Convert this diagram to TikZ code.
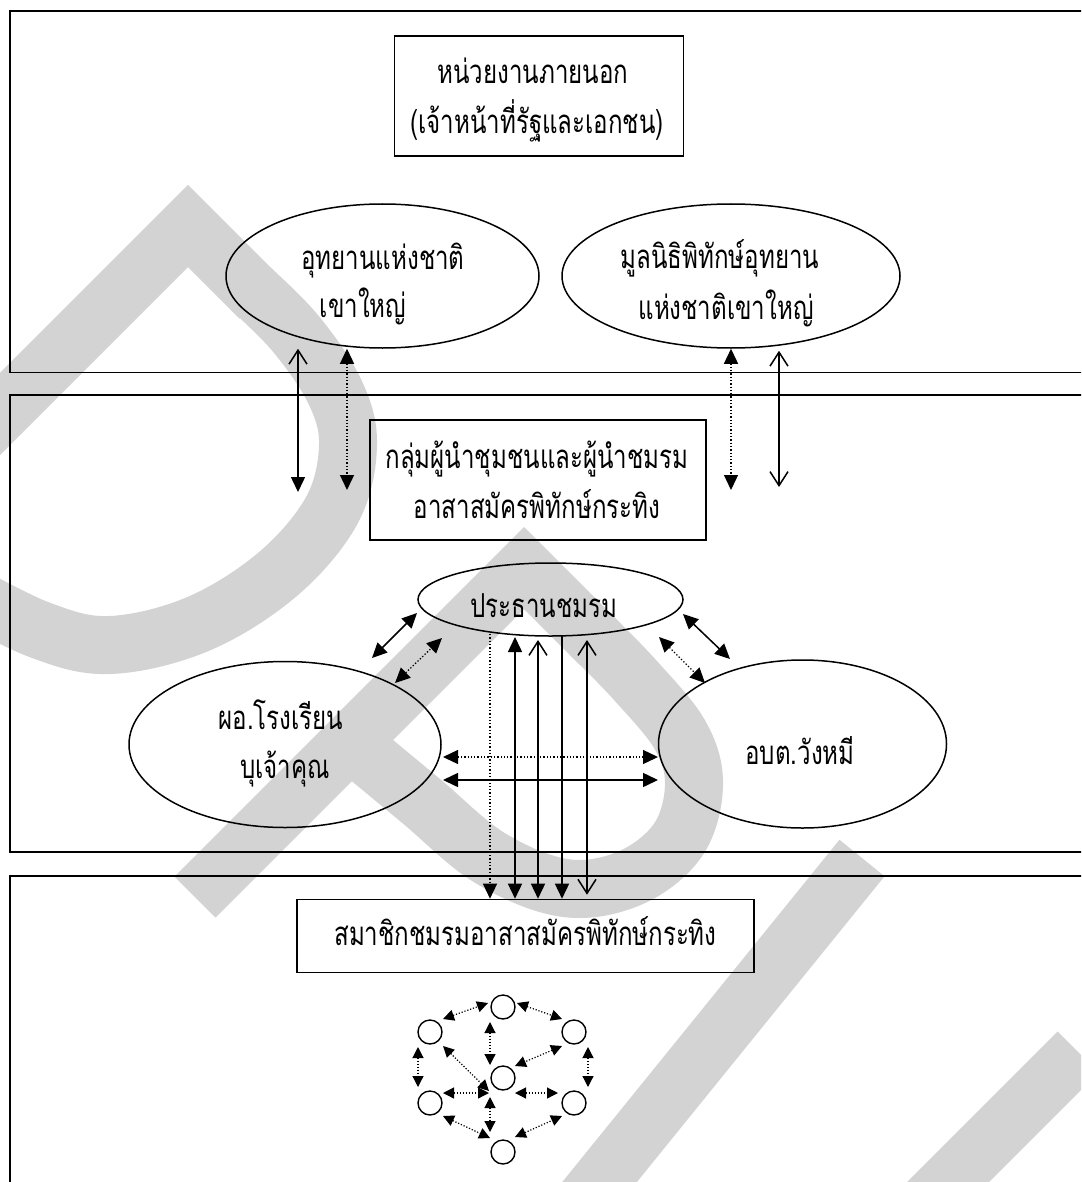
\documentclass[tikz,border=0pt]{standalone}
\usepackage{fontspec}
\newfontfamily\thai[Script=Thai,FakeStretch=0.73]{Loma}
\usetikzlibrary{arrows.meta,shapes.geometric,calc}
\definecolor{wm}{RGB}{211,211,211}
\tikzset{
  frame/.style={line width=1.8pt},
  boxnode/.style={draw,rectangle,line width=1.6pt,inner sep=0pt},
  ellnode/.style={draw,ellipse,line width=1.5pt,inner sep=0pt},
  member/.style={draw,circle,line width=1.4pt,inner sep=0pt,minimum size=24pt},
  thaitext/.style={font=\thai\fontsize{33}{38}\selectfont,anchor=base,inner sep=0pt},
  conn/.style={line width=1.5pt},
  dotconn/.style={line width=1.3pt,dash pattern=on 1.3pt off 2pt},
  small/.style={line width=1.2pt,dash pattern=on 1.2pt off 1.8pt},
  fh/.tip={Triangle[length=15pt,width=14pt]},
  oh/.tip={Straight Barb[length=14pt,width=18pt]},
  sh/.tip={Triangle[length=11pt,width=11pt]},
  band/.style={draw=wm,line width=58pt}
}
\begin{document}
\begin{tikzpicture}[x=1pt,y=-1pt]
\useasboundingbox (0,0) rectangle (1081,1182);
\clip (0,0) rectangle (1081,1182);
% watermark
\draw[band] (-80,494) -- (188,226) -- (260,298);
\draw[band] plot[smooth,tension=0.6] coordinates {(250,288) (296,334) (335,392) (348,445) (332,510) (278,574) (198,624) (110,645) (40,630) (-40,590)};
\draw[band] (195,897) -- (524,568) -- (600,644);
\draw[band] plot[smooth,tension=0.6] coordinates {(590,634) (635,680) (680,735) (694,785) (678,840) (630,878) (565,888) (490,858) (420,800) (350,742)};
\draw[band] (862,858) -- (585,1200);
\draw[band] (1078,1052) -- (925,1205);
% frames
\draw[frame] (1090,11) -| (10,372.5) -- (1090,372.5);
\draw[frame] (1090,395) -| (10,852) -- (1090,852);
\draw[frame] (1090,876) -| (10,1195);
% nodes
\node[boxnode,minimum width=289pt,minimum height=120pt] (ext) at (539,96) {};
\node[thaitext] (ext1) at (533,83.5) {หน่วยงานภายนอก};
\node[thaitext] (ext2) at (537,133.5) {(เจ้าหน้าที่รัฐและเอกชน)};
\node[ellnode,minimum width=313pt,minimum height=144pt] (park) at (382.5,276) {};
\node[thaitext] (park1) at (383,269.5) {อุทยานแห่งชาติ};
\node[thaitext] (park2) at (363,317.5) {เขาใหญ่};
\node[ellnode,minimum width=338pt,minimum height=144pt] (fund) at (731,276) {};
\node[thaitext] (fund1) at (720,268.5) {มูลนิธิพิทักษ์อุทยาน};
\node[thaitext] (fund2) at (726,319) {แห่งชาติเขาใหญ่};
\node[boxnode,minimum width=336pt,minimum height=120pt] (lead) at (538,480) {};
\node[thaitext] (lead1) at (537,468.5) {กลุ่มผู้นำชุมชนและผู้นำชมรม};
\node[thaitext] (lead2) at (537,518.5) {อาสาสมัครพิทักษ์กระทิง};
\node[ellnode,minimum width=265pt,minimum height=73pt] (pres) at (550.5,599.5) {};
\node[thaitext] (pres1) at (544,617) {ประธานชมรม};
\node[ellnode,minimum width=312pt,minimum height=166pt] (school) at (285,744.5) {};
\node[thaitext] (school1) at (281,729.5) {ผอ.โรงเรียน};
\node[thaitext] (school2) at (285,778.5) {บุเจ้าคุณ};
\node[ellnode,minimum width=288pt,minimum height=168pt] (sao) at (802.5,744) {};
\node[thaitext] (sao1) at (800,764.5) {อบต.วังหมี};
\node[boxnode,minimum width=457pt,minimum height=73pt] (mem) at (525.5,936) {};
\node[thaitext] (mem1) at (525.5,945.5) {สมาชิกชมรมอาสาสมัครพิทักษ์กระทิง};
% arrows between sections 1 and 2
\coordinate (a1) at (298,492);
\coordinate (a2) at (347,490);
\coordinate (a3) at (731,490);
\coordinate (a4) at (779,487);
\draw[conn,arrows={oh-fh}] (a1 |- park.south) -- (a1);
\draw[dotconn,arrows={fh-fh}] (a2 |- park.south) -- (a2);
\draw[dotconn,arrows={fh-fh}] (a3 |- fund.south) -- (a3);
\draw[conn,arrows={oh-oh}] ([yshift=-2pt]a4 |- fund.south) -- (a4);
% verticals from president to members
\coordinate (v1) at (490,634);
\coordinate (v2) at (515,637);
\coordinate (v3) at (538,640);
\coordinate (v4) at (562,636);
\coordinate (v5) at (587,640);
\draw[dotconn,arrows={-fh}] (v1) -- (v1 |- mem.north);
\draw[conn,arrows={fh-fh}] (v2) -- (v2 |- mem.north);
\draw[conn,arrows={oh-fh}] (v3) -- (v3 |- mem.north);
\draw[conn,arrows={-fh}] (v4) -- (v4 |- mem.north);
\draw[conn,arrows={oh-oh}] (v5) -- ([yshift=4pt]v5 |- mem.north);
% diagonals and horizontals
\coordinate (d1a) at (372,658); \coordinate (d1b) at (417,613);
\coordinate (d2a) at (395,683); \coordinate (d2b) at (442,638);
\coordinate (d3a) at (683,614); \coordinate (d3b) at (730,659);
\coordinate (d4a) at (659,637); \coordinate (d4b) at (705,683);
\coordinate (h1a) at (443,757); \coordinate (h1b) at (658,757);
\coordinate (h2a) at (443,780); \coordinate (h2b) at (658,780);
\draw[conn,arrows={fh-fh}] (d1a) -- (d1b);
\draw[dotconn,arrows={fh-fh}] (d2a) -- (d2b);
\draw[conn,arrows={fh-fh}] (d3a) -- (d3b);
\draw[dotconn,arrows={fh-fh}] (d4a) -- (d4b);
\draw[dotconn,arrows={fh-fh}] (h1a) -- (h1b);
\draw[conn,arrows={fh-fh}] (h2a) -- (h2b);
% member cluster
\node[member] (c1) at (503,1007) {};
\node[member] (c2) at (430,1032) {};
\node[member] (c3) at (574,1032) {};
\node[member] (c0) at (503,1078) {};
\node[member] (c4) at (430,1103) {};
\node[member] (c5) at (574,1103) {};
\node[member] (c6) at (503,1152) {};
\draw[small,arrows={sh-sh}] ($(c2)+(13,-13)$) -- ($(c1)+(-15,-4)$);
\draw[small,arrows={sh-sh}] ($(c1)+(14,-4)$) -- ($(c3)+(-12,-13)$);
\draw[small,arrows={sh-sh}] ($(c1)+(-13,15)$) -- ($(c0)+(-13,-13)$);
\draw[small,arrows={sh-sh}] ($(c3)+(-12,14)$) -- ($(c0)+(12,-12)$);
\draw[small,arrows={sh-sh}] ($(c2)+(-12,15)$) -- ($(c4)+(-12,-16)$);
\draw[small,arrows={sh-sh}] ($(c3)+(14,15)$) -- ($(c5)+(14,-16)$);
\draw[small,arrows={sh-sh}] ($(c2)+(13,14)$) -- ($(c0)+(-14,13)$);
\draw[small,arrows={sh-sh}] ($(c4)+(13,-10)$) -- ($(c0)+(-14,15)$);
\draw[small,arrows={sh-sh}] ($(c0)+(-13,19)$) -- ($(c6)+(-13,-20)$);
\draw[small,arrows={sh-sh}] ($(c0)+(12,15)$) -- ($(c5)+(-16,-10)$);
\draw[small,arrows={sh-sh}] ($(c4)+(13,13)$) -- ($(c6)+(-13,-14)$);
\draw[small,arrows={sh-sh}] ($(c6)+(12,-15)$) -- ($(c5)+(-12,13)$);
\end{tikzpicture}
\end{document}
